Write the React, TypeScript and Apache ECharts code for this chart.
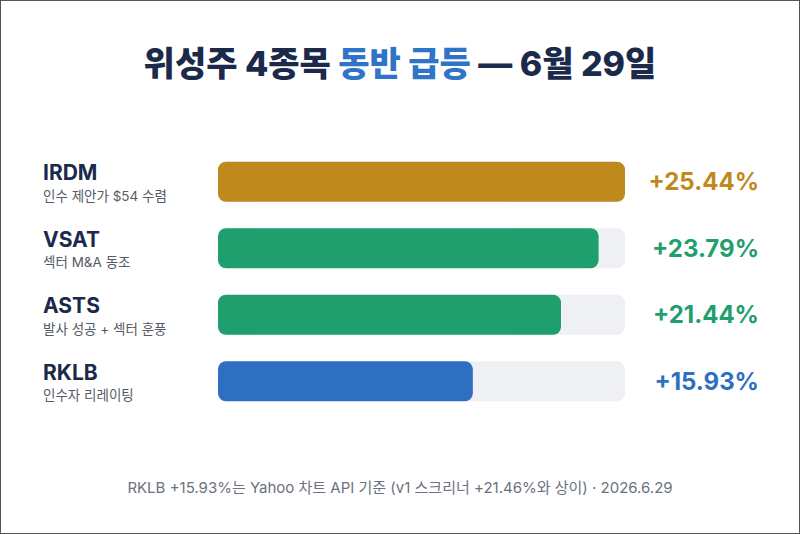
import { useEffect, useRef } from "react";
import * as echarts from "echarts";

const tickers = ["IRDM", "VSAT", "ASTS", "RKLB"];
const notes = ["인수 제안가 $54 수렴", "섹터 M&A 동조", "발사 성공 + 섹터 훈풍", "인수자 리레이팅"];
const gains = [25.44, 23.79, 21.44, 15.93];
const barColors = ["#C0891E", "#1F9E6E", "#1F9E6E", "#2F6FC2"];

const FONT = "Inter, 'Noto Sans CJK KR', sans-serif";

export default function App() {
  const ref = useRef<HTMLDivElement>(null);

  useEffect(() => {
    if (!ref.current) return;
    const chart = echarts.init(ref.current, null, { renderer: "svg" });

    const valueRich: Record<string, any> = {};
    barColors.forEach((c, i) => {
      valueRich["v" + i] = { color: c, fontSize: 24, fontWeight: 700, fontFamily: FONT };
    });

    chart.setOption({
      animation: false,
      backgroundColor: "#ffffff",
      textStyle: { fontFamily: FONT },
      title: {
        text: "{a|위성주 4종목 }{b|동반 급등}{a| — 6월 29일}",
        left: "center",
        top: 40,
        textStyle: {
          rich: {
            a: { fontSize: 34, fontWeight: 800, color: "#1B2A4A", fontFamily: FONT },
            b: { fontSize: 34, fontWeight: 800, color: "#2F74C8", fontFamily: FONT },
          },
        },
      },
      graphic: [
        {
          type: "text",
          left: "center",
          top: 479,
          style: {
            text: "RKLB +15.93%는 Yahoo 차트 API 기준 (v1 스크리너 +21.46%와 상이) · 2026.6.29",
            fill: "#6B7280",
            fontSize: 15,
            fontFamily: FONT,
          },
        },
      ],
      grid: { left: 217, right: 174, top: 147.5, bottom: 118.5 },
      xAxis: { type: "value", min: 0, max: gains[0], show: false },
      yAxis: [
        {
          type: "category",
          data: tickers,
          inverse: true,
          axisLine: { show: false },
          axisTick: { show: false },
          axisLabel: {
            align: "left",
            margin: 175,
            formatter: (v: string, i: number) => `{t|${v}}\n{s|${notes[i]}}`,
            rich: {
              t: { fontSize: 21, fontWeight: 700, color: "#1B2A4A", lineHeight: 28, fontFamily: FONT },
              s: { fontSize: 13.5, color: "#555B66", lineHeight: 18, fontFamily: FONT },
            },
          },
        },
        {
          type: "category",
          data: gains.map((g) => `+${g.toFixed(2)}%`),
          inverse: true,
          position: "right",
          axisLine: { show: false },
          axisTick: { show: false },
          axisLabel: {
            align: "right",
            margin: 134,
            formatter: (v: string, i: number) => `{v${i}|${v}}`,
            rich: valueRich,
          },
        },
      ],
      series: [
        {
          type: "bar",
          data: gains.map((g, i) => ({ value: g, itemStyle: { color: barColors[i] } })),
          barWidth: 40,
          showBackground: true,
          backgroundStyle: { color: "#EEF0F3", borderRadius: 8 },
          itemStyle: { borderRadius: 8 },
        },
      ],
    });

    return () => chart.dispose();
  }, []);

  return (
    <div
      ref={ref}
      style={{
        position: "absolute",
        left: 0,
        top: 0,
        width: 800,
        height: 534,
        boxSizing: "border-box",
        border: "1px solid #555",
      }}
    />
  );
}
